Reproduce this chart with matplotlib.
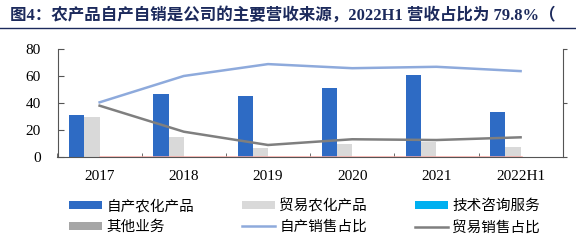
import numpy as np
import matplotlib.pyplot as plt
from matplotlib.lines import Line2D

plt.rcParams['font.family'] = ['Liberation Serif', 'Noto Sans CJK SC', 'DejaVu Sans']

# data
years = ["2017", "2018", "2019", "2020", "2021", "2022H1"]
self_prod = [31.1, 46.7, 45.4, 51.1, 61.2, 33.8]
trade_prod = [29.6, 15.0, 6.7, 9.9, 11.6, 7.9]
tech_service = [0.3, 0.3, 0.3, 0.3, 0.3, 0.3]
other_biz = [0.3, 0.3, 0.3, 0.3, 0.3, 0.3]
self_share = [50.9, 75.3, 86.3, 82.5, 83.8, 79.8]
trade_share = [47.8, 23.7, 11.4, 16.7, 16.0, 18.5]
tech_share = [0.6, 0.6, 0.6, 0.6, 0.6, 0.6]

bar_names = ["自产农化产品", "贸易农化产品", "技术咨询服务", "其他业务"]
line_names = ["自产销售占比", "贸易销售占比"]

fig = plt.figure(figsize=(5.76, 2.48), dpi=100)

# title and rule under it
fig.text(10 / 576, 1 - 15 / 248, "图4：农产品自产自销是公司的主要营收来源，2022H1 营收占比为 79.8%（",
         fontsize=11.9, fontweight='bold', color='#1c2a5c', va='center', ha='left')
fig.add_artist(Line2D([0, 1], [1 - 28 / 248, 1 - 28 / 248], color='#1c2a5c', lw=1.0))

ax = fig.add_axes([57.5 / 576, 1 - 157.3 / 248, (562.7 - 57.5) / 576, (157.3 - 49.3) / 248])
ax2 = ax.twinx()

x = np.arange(len(years))
w = 0.18
cols = ['#2e6bc4', '#d9d9d9', '#00b0f0', '#a6a6a6']
bars = []
for i, (vals, c) in enumerate(zip([self_prod, trade_prod, tech_service, other_biz], cols)):
    b = ax.bar(x + (i - 1.5) * w, vals, w, color=c, label=bar_names[i], zorder=2)
    bars.append(b)

l1, = ax2.plot(x, self_share, color='#8eaadc', lw=1.8, label=line_names[0], zorder=3)
l2, = ax2.plot(x, trade_share, color='#7f7f7f', lw=1.8, label=line_names[1], zorder=3)
ax2.plot(x, tech_share, color='#f4a6a0', lw=1.8, zorder=3)

ax.set_xlim(-0.5, 5.5)
ax.set_ylim(0, 80)
ax.set_yticks([0, 20, 40, 60, 80])
ax2.set_ylim(0, 100)
ax2.set_yticks([0, 50, 100])
ax2.set_yticklabels([])
ax2.tick_params(axis='y', direction='out', length=3, color='#555555')

ax.set_xticks(x)
ax.set_xticklabels(years)
ax.set_xticks(np.arange(-0.5, 6, 1), minor=True)
ax.tick_params(axis='x', which='major', length=0, labelsize=11, pad=9)
ax.tick_params(axis='x', which='minor', direction='in', length=3, color='#555555')
ax.tick_params(axis='y', direction='in', length=4, labelsize=11, pad=12, color='#555555')

for a in (ax, ax2):
    a.spines['top'].set_visible(False)
    for s in ('left', 'right', 'bottom'):
        a.spines[s].set_color('#555555')
ax.spines['right'].set_visible(False)
ax2.spines['left'].set_visible(False)
ax2.spines['bottom'].set_visible(False)
ax.set_zorder(ax2.get_zorder() - 1)
ax.patch.set_visible(False)

handles = bars + [l1, l2]
labels = bar_names + line_names
order = [0, 3, 1, 4, 2, 5]
fig.legend([handles[i] for i in order], [labels[i] for i in order], ncol=3,
           loc='upper left', bbox_to_anchor=(69 / 576, 1 - 199 / 248), frameon=False,
           fontsize=10.5, handlelength=2.25, handleheight=0.55, handletextpad=0.3,
           columnspacing=3.3, labelspacing=0.5, borderpad=0, borderaxespad=0)

fig.savefig('out.png', dpi=100)
